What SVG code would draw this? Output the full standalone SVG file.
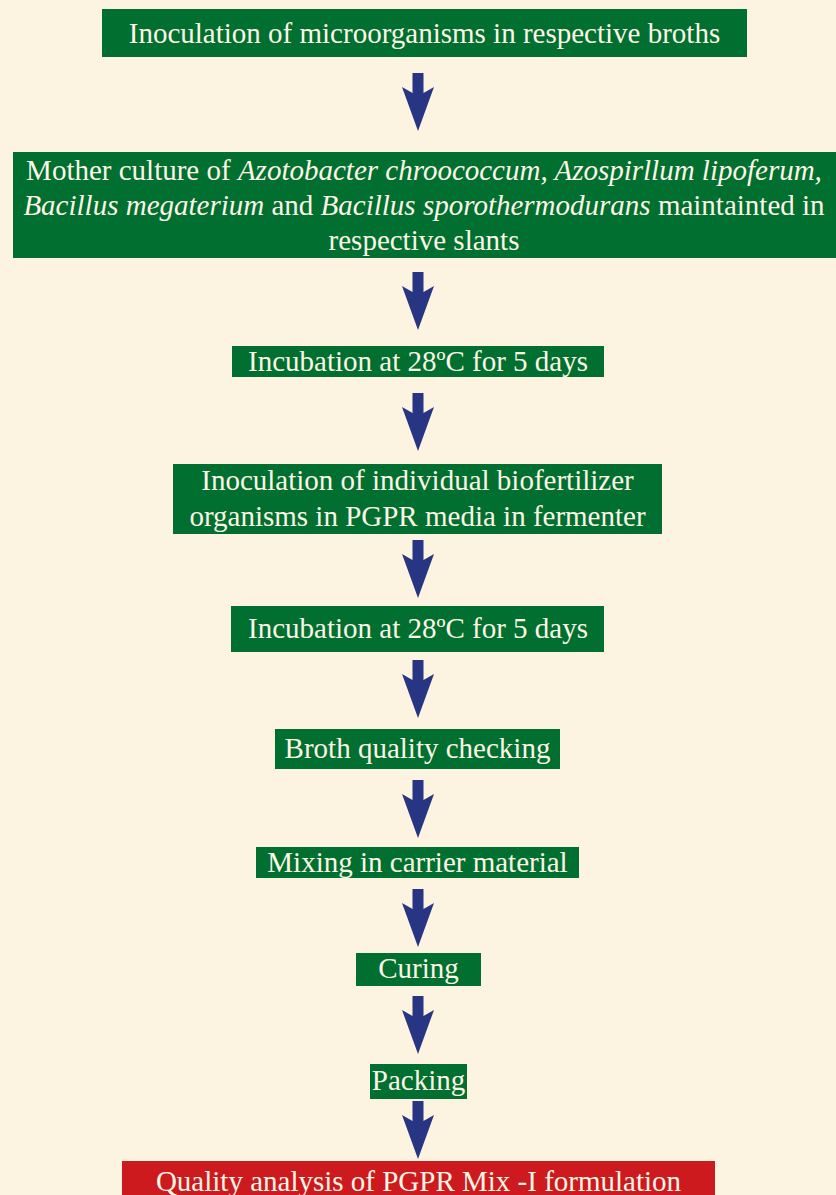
<svg xmlns="http://www.w3.org/2000/svg" width="836" height="1195" viewBox="0 0 836 1195">
<defs>
<style>
.bg{fill:#fdf3e1}
.box{fill:#006f30}
.red{fill:#cc1a1f}
.t{fill:#fdf6e6;text-anchor:middle}
.i{font-style:italic}
.arr{fill:#283583}
</style>
<path id="ar" d="M-5.5 0 H5.5 V20 L16 14 L0 58 L-16 14 L-5.5 20 Z"/>
</defs>
<rect class="bg" x="0" y="0" width="836" height="1195"/>
<g font-family="Liberation Serif" font-size="29">
<g id="n1"><rect class="box" x="102" y="9" width="645" height="48"/><text class="t" x="424.5" y="43">Inoculation of microorganisms in respective broths</text></g>
<g id="n2"><rect class="box" x="13" y="152" width="823" height="106"/>
<text class="t" x="424" y="180">Mother culture of <tspan class="i">Azotobacter chroococcum, Azospirllum lipoferum,</tspan></text>
<text class="t" x="424" y="215"><tspan class="i">Bacillus megaterium</tspan> and <tspan class="i">Bacillus sporothermodurans</tspan> maintainted in</text>
<text class="t" x="424" y="250">respective slants</text></g>
<g id="n3"><rect class="box" x="232" y="346" width="372" height="31"/><text class="t" x="418" y="371">Incubation at 28ºC for 5 days</text></g>
<g id="n4"><rect class="box" x="173" y="464" width="489" height="70"/><text class="t" x="417.5" y="490">Inoculation of individual biofertilizer</text><text class="t" x="417.5" y="526">organisms in PGPR media in fermenter</text></g>
<g id="n5"><rect class="box" x="231" y="606" width="373" height="46"/><text class="t" x="418" y="638">Incubation at 28ºC for 5 days</text></g>
<g id="n6"><rect class="box" x="275" y="729" width="285" height="40"/><text class="t" x="417.5" y="758">Broth quality checking</text></g>
<g id="n7"><rect class="box" x="256" y="847" width="323" height="31"/><text class="t" x="417.5" y="872">Mixing in carrier material</text></g>
<g id="n8"><rect class="box" x="356" y="953" width="125" height="33"/><text class="t" x="418.5" y="978">Curing</text></g>
<g id="n9"><rect class="box" x="370" y="1064" width="97" height="35"/><text class="t" x="418.5" y="1090">Packing</text></g>
<g id="n10"><rect class="red" x="122" y="1161" width="593" height="40"/><text class="t" x="418.5" y="1191">Quality analysis of PGPR Mix -I formulation</text></g>
</g>
<g id="connectors" class="arr">
<use href="#ar" x="418" y="73"/>
<use href="#ar" x="418" y="272"/>
<use href="#ar" x="418" y="393"/>
<use href="#ar" x="418" y="540"/>
<use href="#ar" x="418" y="660"/>
<use href="#ar" x="418" y="780"/>
<use href="#ar" x="418" y="889"/>
<use href="#ar" x="418" y="996"/>
<use href="#ar" x="418" y="1101"/>
</g>
</svg>
